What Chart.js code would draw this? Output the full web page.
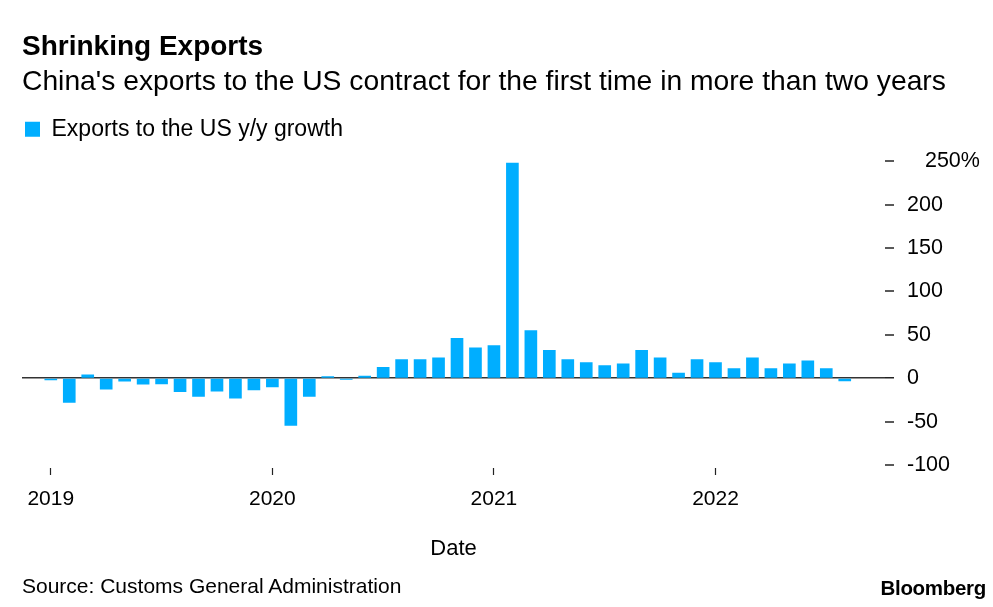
<!DOCTYPE html>
<html>
<head>
<meta charset="utf-8">
<script src="https://cdn.jsdelivr.net/npm/chart.js@4.4.0/dist/chart.umd.min.js"></script>
<style>
  html, body { margin: 0; padding: 0; background: #fff; }
  #wrap { position: relative; width: 993px; height: 607px; overflow: hidden; background: #fff; }
  #chart { position: absolute; left: 0; top: 0; }
  .note { position: absolute; font-family: "Liberation Sans", Arial, Helvetica, sans-serif; color: #000; white-space: nowrap; line-height: 1; }
  #source { left: 22px; top: 575px; font-size: 21px; }
  #brand { right: 7px; top: 577.5px; font-size: 20.5px; font-weight: bold; letter-spacing: -0.3px; }
</style>
</head>
<body>
<div id="wrap">
  <canvas id="chart" width="993" height="607"></canvas>
  <div class="note" id="source">Source: Customs General Administration</div>
  <div class="note" id="brand">Bloomberg</div>
</div>
<script>
// ---- data ----
const months = [
  '2019-01','2019-02','2019-03','2019-04','2019-05','2019-06','2019-07','2019-08','2019-09','2019-10','2019-11','2019-12',
  '2020-01','2020-02','2020-03','2020-04','2020-05','2020-06','2020-07','2020-08','2020-09','2020-10','2020-11','2020-12',
  '2021-01','2021-02','2021-03','2021-04','2021-05','2021-06','2021-07','2021-08','2021-09','2021-10','2021-11','2021-12',
  '2022-01','2022-02','2022-03','2022-04','2022-05','2022-06','2022-07','2022-08'
];
const growth = [
  -2, -28, 4, -12.5, -3.5, -7, -6.5, -15.5, -21, -15, -23, -13.5,
  -10, -54.5, -21, 2, -1.5, 2.5, 12.5, 21.5, 21.5, 23.5, 46, 35,
  37.5, 248, 55, 32, 21.5, 18, 14.5, 16.5, 32, 23.5, 6, 21.5,
  18, 11, 23.5, 11, 16.5, 20, 11, -3
];
const yearLabels = ['2019', '2020', '2021', '2022'];
const yTicks = [-100, -50, 0, 50, 100, 150, 200, 250];
const yTickLabels = ['-100', '-50', '0', '50', '100', '150', '200', '   250%'];
const seriesName = 'Exports to the US y/y growth';

const yearTickIdx = yearLabels.map(y => months.indexOf(y + '-01'));

Chart.defaults.font.family = '"Liberation Sans", Arial, Helvetica, sans-serif';
Chart.defaults.color = '#000';

const legendGap = {
  id: 'legendGap',
  beforeInit(chart) {
    const fit = chart.legend.fit;
    chart.legend.fit = function () {
      fit.call(this);
      this.height += 10.5;
    };
  }
};

new Chart(document.getElementById('chart').getContext('2d'), {
  type: 'bar',
  data: {
    datasets: [{
      label: seriesName,
      data: months.map((m, i) => ({ x: i, y: growth[i] })),
      backgroundColor: '#00aeff',
      borderWidth: 0,
      barThickness: 12
    }]
  },
  options: {
    responsive: false,
    animation: false,
    devicePixelRatio: 1,
    layout: { padding: { top: 33, left: 22, right: 0, bottom: 44.8 } },
    plugins: {
      title: {
        display: true, text: 'Shrinking Exports', align: 'start', color: '#000',
        font: { size: 28, weight: 'bold', lineHeight: 1 }, padding: { top: 0, bottom: 7 }
      },
      subtitle: {
        display: true, text: "China's exports to the US contract for the first time in more than two years",
        align: 'start', color: '#000',
        font: { size: 28.25, weight: 'normal', lineHeight: 1 }, padding: { top: 0, bottom: 18.5 }
      },
      legend: {
        display: true, position: 'top', align: 'start',
        labels: { boxWidth: 15, boxHeight: 15, padding: 3, color: '#000', font: { size: 23 } }
      },
      tooltip: { enabled: false }
    },
    scales: {
      x: {
        type: 'linear', min: -1.56, max: 45.18, offset: false,
        grid: {
          display: true, offset: false, drawOnChartArea: false, drawTicks: true,
          tickLength: 10, tickBorderDash: [0, 3, 7, 0], color: '#222', tickWidth: 1.2
        },
        border: { display: false },
        afterBuildTicks(s) { s.ticks = yearTickIdx.map(v => ({ value: v })); },
        ticks: {
          autoSkip: false, maxRotation: 0, padding: 11.6, color: '#000', font: { size: 21 },
          callback: v => yearLabels[yearTickIdx.indexOf(v)]
        },
        title: { display: true, text: 'Date', color: '#000', font: { size: 22 }, padding: { top: 12.4, bottom: 0 } }
      },
      y: {
        position: 'right', min: -100, max: 250, z: 1,
        afterBuildTicks(s) { s.ticks = yTicks.map(v => ({ value: v })); },
        afterFit(s) { s.width = 108; },
        grid: {
          drawOnChartArea: true, drawTicks: true, tickLength: 9, tickWidth: 1.5, tickColor: '#222',
          color: c => (c.tick && c.tick.value === 0) ? '#333' : 'rgba(0,0,0,0)',
          lineWidth: c => (c.tick && c.tick.value === 0) ? 1.5 : 0
        },
        border: { display: false },
        ticks: {
          padding: 13, color: '#000', font: { size: 21.5 },
          callback: v => yTickLabels[yTicks.indexOf(v)]
        }
      }
    }
  },
  plugins: [legendGap]
});
</script>
</body>
</html>
